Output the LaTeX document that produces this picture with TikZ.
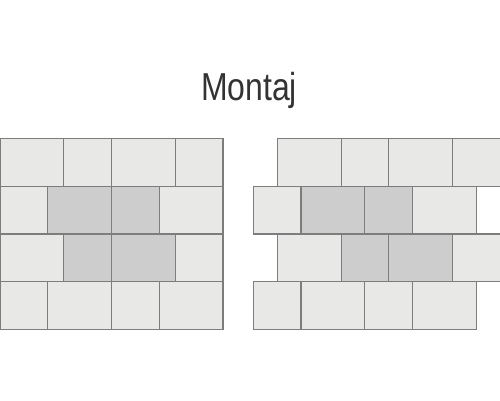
\documentclass[tikz,border=0pt]{standalone}
\usepackage{fontspec}
\newfontfamily\titlefont{Liberation Sans}[FakeStretch=0.82]
\usetikzlibrary{positioning}

\definecolor{tileLight}{RGB}{232,233,231}
\definecolor{tileDark}{RGB}{204,205,204}
\definecolor{tileLine}{RGB}{125,125,125}
\definecolor{titleGray}{RGB}{51,51,51}

\tikzset{
  tile/.style={draw=tileLine, line width=1.2pt, fill=tileLight},
  title/.style={font=\titlefont\fontsize{39}{39}\selectfont, text=titleGray, inner sep=0pt}
}

\begin{document}
\begin{tikzpicture}[x=1pt, y=-1pt]
  \useasboundingbox (0,0) rectangle (500,400);
  \def\hT{47.7}

  \node[title, anchor=base] (title) at (249,100) {Montaj};

  % x / y / first width / second width / middle fill
  \foreach \x/\y/\a/\b/\f in {
      0/138.5/63.8/47.7/tileLight, 0/186.2/47.7/63.8/tileDark,
      0/233.9/63.8/47.7/tileDark, 0/281.6/47.7/63.8/tileLight,
      277.3/138.5/63.8/47.7/tileLight, 253.3/186.2/47.7/63.8/tileDark,
      277.3/233.9/63.8/47.7/tileDark, 253.3/281.6/47.7/63.8/tileLight}
  {
    \draw[tile] (\x,\y) rectangle ++(\a,\hT);
    \draw[tile, fill=\f] (\x+\a,\y) rectangle ++(\b,\hT);
    \draw[tile, fill=\f] (\x+\a+\b,\y) rectangle ++(\a,\hT);
    \draw[tile] (\x+2*\a+\b,\y) rectangle ++(\b,\hT);
  }
\end{tikzpicture}
\end{document}
